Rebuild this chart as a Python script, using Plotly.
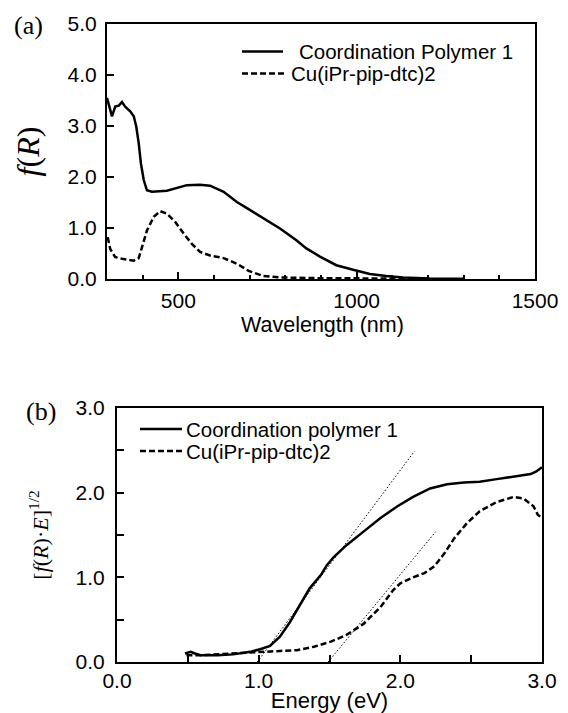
import plotly.graph_objects as go

# ---------------- Panel (a) data: f(R) vs wavelength ----------------
wl_cp = [300, 314, 323, 333, 342, 351, 365, 375, 382, 389, 395, 403, 412, 426, 468, 496,
         524, 561, 589, 627, 664, 697, 738, 785, 831, 859, 897, 943, 990, 1037, 1083,
         1130, 1205, 1300]
f_cp = [3.55, 3.19, 3.38, 3.40, 3.47, 3.38, 3.29, 3.19, 2.99, 2.66, 2.27, 1.94, 1.74, 1.71,
        1.73, 1.78, 1.84, 1.85, 1.83, 1.71, 1.51, 1.37, 1.19, 0.99, 0.76, 0.60, 0.44, 0.27,
        0.18, 0.10, 0.06, 0.03, 0.01, 0.005]

wl_cu = [302, 309, 323, 346, 375, 389, 398, 412, 431, 449, 468, 491, 515, 538, 561, 589,
         627, 664, 697, 738, 785, 900, 1100, 1200]
f_cu = [0.82, 0.59, 0.43, 0.39, 0.36, 0.41, 0.62, 0.95, 1.22, 1.33, 1.28, 1.12, 0.89, 0.69,
        0.53, 0.46, 0.41, 0.30, 0.16, 0.06, 0.03, 0.015, 0.01, 0.005]

# ---------------- Panel (b) data: [f(R)E]^1/2 vs energy ----------------
e_cp = [0.48, 0.52, 0.55, 0.59, 0.71, 0.82, 0.94, 1.01, 1.08, 1.15, 1.22, 1.29, 1.36, 1.44,
        1.48, 1.53, 1.62, 1.74, 1.86, 1.98, 2.09, 2.21, 2.33, 2.45, 2.56, 2.68, 2.80, 2.92,
        2.96, 3.00]
y_cp = [0.10, 0.12, 0.10, 0.08, 0.08, 0.09, 0.12, 0.15, 0.19, 0.30, 0.47, 0.67, 0.87, 1.03,
        1.14, 1.24, 1.38, 1.54, 1.70, 1.84, 1.95, 2.05, 2.10, 2.12, 2.13, 2.16, 2.19, 2.22,
        2.25, 2.30]

e_cu = [0.49, 0.60, 0.80, 1.01, 1.06, 1.15, 1.27, 1.39, 1.51, 1.62, 1.74, 1.86, 1.95, 2.00,
        2.09, 2.17, 2.24, 2.31, 2.38, 2.47, 2.56, 2.68, 2.80, 2.87, 2.94, 2.97, 3.00]
y_cu = [0.08, 0.08, 0.10, 0.12, 0.13, 0.13, 0.14, 0.18, 0.24, 0.32, 0.45, 0.65, 0.85, 0.93,
        1.00, 1.05, 1.13, 1.28, 1.46, 1.64, 1.78, 1.89, 1.95, 1.93, 1.84, 1.74, 1.70]

tan1_e = [0.99, 2.10]
tan1_y = [0.0, 2.49]
tan2_e = [1.49, 2.25]
tan2_y = [0.0, 1.54]

name_cp_a = "Coordination Polymer 1"
name_cp_b = "Coordination polymer 1"
name_cu = "Cu(iPr-pip-dtc)2"

SANS = "Liberation Sans, Arial, sans-serif"
SERIF = "Liberation Serif, Times New Roman, serif"

# the page body has an 8px margin, so the figure is placed at (8, 8) in the window
OFF = 8
W, H = 568 - OFF, 713 - OFF


def X(px):
    return (px - OFF) / W


def Y(py):
    return 1 - (py - OFF) / H


SOLID = dict(color="black", width=2.5)
DASHED = dict(color="black", width=2.5, dash="6px,3px")
DOTTED = dict(color="black", width=1, dash="1.5px,2px")

fig = go.Figure()

fig.add_trace(go.Scatter(x=wl_cp, y=f_cp, mode="lines", name=name_cp_a, line=SOLID,
                         xaxis="x", yaxis="y", showlegend=False))
fig.add_trace(go.Scatter(x=wl_cu, y=f_cu, mode="lines", name=name_cu, line=DASHED,
                         xaxis="x", yaxis="y", showlegend=False))
fig.add_trace(go.Scatter(x=e_cp, y=y_cp, mode="lines", name=name_cp_b, line=SOLID,
                         xaxis="x2", yaxis="y2", showlegend=False))
fig.add_trace(go.Scatter(x=e_cu, y=y_cu, mode="lines", name=name_cu, line=DASHED,
                         xaxis="x2", yaxis="y2", showlegend=False))
fig.add_trace(go.Scatter(x=tan1_e, y=tan1_y, mode="lines", line=DOTTED,
                         xaxis="x2", yaxis="y2", showlegend=False))
fig.add_trace(go.Scatter(x=tan2_e, y=tan2_y, mode="lines", line=DOTTED,
                         xaxis="x2", yaxis="y2", showlegend=False))

TICKFONT = dict(family=SANS, size=21, color="black")
axis_common = dict(showline=True, mirror=True, linecolor="black", linewidth=2,
                   ticks="inside", ticklen=7, tickwidth=1.5, tickcolor="black",
                   showgrid=False, zeroline=False, automargin=False,
                   tickfont=TICKFONT)

# hand-drawn legends (sample line + label), one for each panel
LEGFONT = dict(family=SANS, size=20.5, color="black")
legend_rows = [
    # (x0, x1, y, text_x, text, line style)
    (242, 283, 51.5, 297, name_cp_a, SOLID),
    (242, 287, 73.5, 289, name_cu, DASHED),
    (140, 182, 429, 184, name_cp_b, SOLID),
    (140, 182, 451, 184, name_cu, DASHED),
]
shapes = []
annotations = []
for x0, x1, yy, tx, txt, st in legend_rows:
    shapes.append(dict(type="line", xref="paper", yref="paper",
                       x0=X(x0), x1=X(x1), y0=Y(yy), y1=Y(yy), line=st))
    annotations.append(dict(text=txt, x=X(tx), y=Y(yy), xref="paper", yref="paper",
                            xanchor="left", yanchor="middle", showarrow=False,
                            font=LEGFONT))

annotations += [
    dict(text="(a)", x=X(12), y=Y(25), xref="paper", yref="paper",
         xanchor="left", yanchor="middle", showarrow=False,
         font=dict(family=SERIF, size=26, color="black")),
    dict(text="(b)", x=X(24), y=Y(411), xref="paper", yref="paper",
         xanchor="left", yanchor="middle", showarrow=False,
         font=dict(family=SERIF, size=26, color="black")),
    # x-axis title of panel (a)
    dict(text="Wavelength (nm)", x=X(322), y=Y(325), xref="paper", yref="paper",
         xanchor="center", yanchor="middle", showarrow=False,
         font=dict(family=SANS, size=21.5, color="black")),
]

fig.update_layout(
    template="none",
    width=W, height=H, autosize=False,
    margin=dict(l=0, r=0, t=0, b=0, pad=0),
    paper_bgcolor="white", plot_bgcolor="white",
    showlegend=False,
    xaxis=dict(domain=[X(107), X(535)], anchor="y", range=[300, 1500],
               tick0=0, dtick=500,
               minor=dict(dtick=100, tick0=0, ticks="inside", ticklen=4,
                          tickwidth=1.5, tickcolor="black"),
               ticklabelstandoff=2,
               **axis_common),
    yaxis=dict(domain=[Y(279), Y(24)], anchor="x", range=[0, 5],
               dtick=1, tickformat=".1f",
               title=dict(text="<i>f</i>(<i>R</i>)", standoff=18,
                          font=dict(family=SERIF, size=32, color="black")),
               ticklabelstandoff=4,
               **axis_common),
    xaxis2=dict(domain=[X(117), X(542)], anchor="y2", range=[0, 3],
                dtick=1, tickformat=".1f",
                minor=dict(dtick=0.5, ticks="inside", ticklen=7, tickwidth=1.5,
                           tickcolor="black"),
                title=dict(text="Energy (eV)", standoff=3,
                           font=dict(family=SANS, size=22, color="black")),
                ticklabelstandoff=-1,
                **axis_common),
    yaxis2=dict(domain=[Y(662), Y(408)], anchor="x2", range=[0, 3],
                dtick=1, tickformat=".1f",
                minor=dict(dtick=0.5, ticks="inside", ticklen=7, tickwidth=1.5,
                           tickcolor="black"),
                title=dict(text="[<i>f</i>(<i>R</i>)\u00b7<i>E</i>]<sup>1/2</sup>", standoff=21,
                           font=dict(family=SERIF, size=22, color="black")),
                ticklabelstandoff=6,
                **axis_common),
    shapes=shapes,
    annotations=annotations,
)

fig.write_html("out.html")
